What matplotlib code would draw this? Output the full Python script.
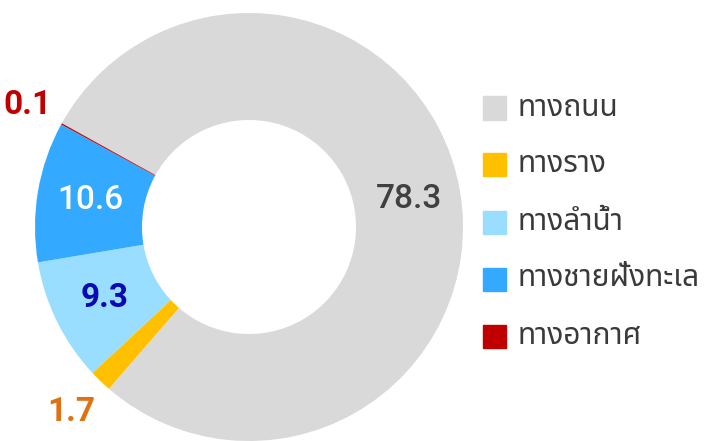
import numpy as np
import matplotlib
matplotlib.use("Agg")
import matplotlib.pyplot as plt

categories = ["ทางถนน", "ทางราง", "ทางลำน้ำ", "ทางชายฝั่งทะเล", "ทางอากาศ"]
values = [78.3, 1.7, 9.3, 10.6, 0.1]
value_labels = ["78.3", "1.7", "9.3", "10.6", "0.1"]

colors = ["#d9d9d9", "#ffc000", "#99ddff", "#33aaff", "#c00000"]
label_colors = ["#404040", "#e07010", "#0a0ab4", "#ffffff", "#c00000"]
label_weights = ["medium", "bold", "bold", "medium", "bold"]
# small slices get their label outside the ring
label_radius = [0.76, 1.20, 0.75, 0.75, 1.18]

plt.rcParams['font.family'] = ['Noto Sans Thai', 'Noto Sans', 'DejaVu Sans']

fig = plt.figure(figsize=(7.06, 4.41), dpi=100)
W, H = 706, 441
cx, cy, R = 249, 227, 214
ax = fig.add_axes([(cx - R) / W, (H - cy - R) / H, 2 * R / W, 2 * R / H])

wedges, _ = ax.pie(values, colors=colors, startangle=151, counterclock=False,
                   radius=1.0, wedgeprops=dict(width=0.5, linewidth=0))
ax.set_xlim(-1, 1)
ax.set_ylim(-1, 1)
ax.set_aspect("equal")
ax.axis("off")

for w, lab, col, wt, r in zip(wedges, value_labels, label_colors, label_weights, label_radius):
    ang = np.deg2rad((w.theta1 + w.theta2) / 2)
    ax.text(r * np.cos(ang), r * np.sin(ang), lab, color=col, fontsize=24,
            fontweight=wt, family=["Roboto", "DejaVu Sans"],
            ha="center", va="center", clip_on=False)

# legend
for i, (cat, col) in enumerate(zip(categories, colors)):
    y = 1 - (108 + 57 * i) / H
    fig.patches.append(plt.Rectangle((483 / W, y - 11.5 / H), 23 / W, 23 / H,
                                     transform=fig.transFigure, color=col))
    fig.text(517 / W, y, cat, fontsize=21.5, color="#3a3a3a", va="center", ha="left")

fig.savefig("out.png")
